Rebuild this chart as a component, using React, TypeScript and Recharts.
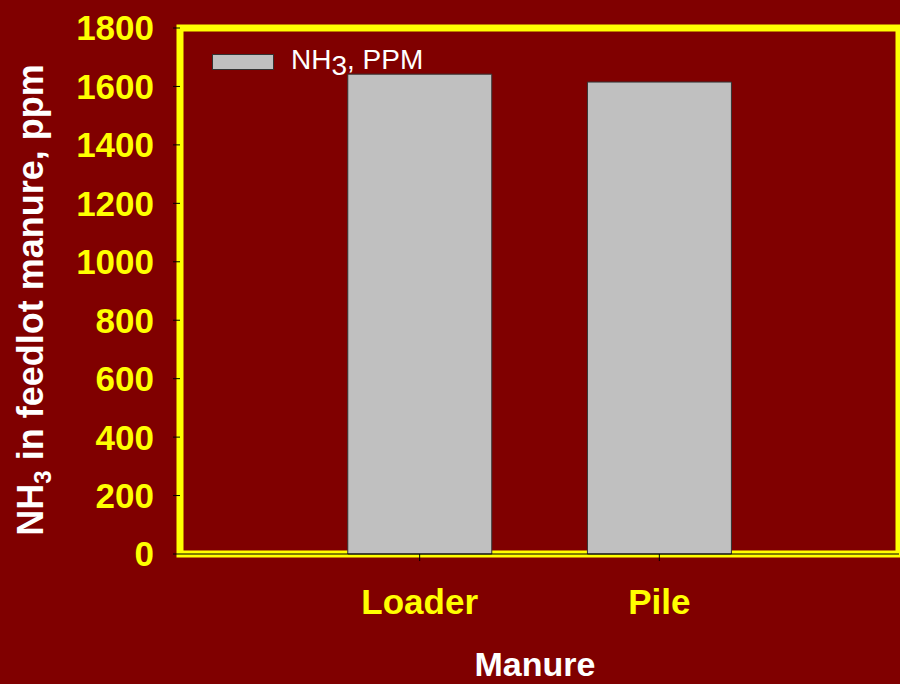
import React from 'react';
import {
  ComposedChart,
  Bar,
  XAxis,
  YAxis,
  Legend,
  Label,
  ReferenceArea,
} from 'recharts';

// Ammonia concentration measured in feedlot manure, by collection method
const categories = ['Loader', 'Pile'];
const nh3Ppm = [1642, 1615];
const yTicks = [0, 200, 400, 600, 800, 1000, 1200, 1400, 1600, 1800];
const yDomain: [number, number] = [0, 1800];

// Categories sit at slots 1..n on a numeric axis running from 0 to n + 1
const xDomain: [number, number] = [0, categories.length + 1];
const xTicks = categories.map((_, i) => i + 1);

const data = categories.map((manure, i) => ({ slot: i + 1, manure, nh3: nh3Ppm[i] }));

const FONT = '"Liberation Sans", Arial, Helvetica, sans-serif';
const BG = '#800000';
const YELLOW = '#ffff00';
const BAR_FILL = '#c0c0c0';

const LegendContent = () => (
  <div
    style={{
      position: 'relative',
      width: 240,
      height: 34,
      fontFamily: FONT,
      color: '#ffffff',
    }}
  >
    <div
      style={{
        position: 'absolute',
        left: 0,
        top: 8,
        width: 60,
        height: 14,
        background: BAR_FILL,
        border: '1px solid #333333',
      }}
    />
    <div
      style={{
        position: 'absolute',
        left: 79,
        top: 0,
        fontSize: 28,
        lineHeight: '28px',
        whiteSpace: 'nowrap',
      }}
    >
      NH<span style={{ position: 'relative', top: 6 }}>3</span>, PPM
    </div>
  </div>
);

const YTitle = () => (
  <text
    transform="translate(43, 300) rotate(-90)"
    textAnchor="middle"
    fill="#ffffff"
    fontFamily={FONT}
    fontWeight="bold"
    fontSize={36}
  >
    NH
    <tspan fontSize={24} dy={8}>
      3
    </tspan>
    <tspan dy={-8}> in feedlot manure, ppm</tspan>
  </text>
);

const XTitle = () => (
  <text
    x={535}
    y={676}
    textAnchor="middle"
    fill="#ffffff"
    fontFamily={FONT}
    fontWeight="bold"
    fontSize={34}
  >
    Manure
  </text>
);

export default function App() {
  return (
    <div
      style={{
        position: 'absolute',
        left: 0,
        top: 0,
        width: 900,
        height: 684,
        background: BG,
        overflow: 'hidden',
      }}
    >
      <ComposedChart
        width={900}
        height={684}
        data={data}
        margin={{ top: 28, right: 1, bottom: 0, left: 0 }}
        barCategoryGap="20%"
      >
        <XAxis
          dataKey="slot"
          type="number"
          domain={xDomain}
          ticks={xTicks}
          interval={0}
          tickFormatter={(v: number) => categories[v - 1] ?? ''}
          axisLine={{ stroke: '#000000', strokeWidth: 1 }}
          tickLine={{ stroke: '#000000' }}
          tickSize={7}
          tickMargin={28}
          tick={{ fill: YELLOW, fontFamily: FONT, fontWeight: 'bold', fontSize: 35 }}
          height={130}
        >
          <Label content={XTitle} />
        </XAxis>
        <YAxis
          width={180}
          domain={yDomain}
          ticks={yTicks}
          interval={0}
          axisLine={false}
          tickLine={{ stroke: '#000000' }}
          tickSize={7}
          tickMargin={19}
          tick={{ fill: YELLOW, fontFamily: FONT, fontWeight: 'bold', fontSize: 35 }}
        >
          <Label content={YTitle} />
        </YAxis>
        <Legend
          layout="horizontal"
          verticalAlign="middle"
          align="center"
          content={LegendContent}
          wrapperStyle={{ left: 212, top: 46, width: 240, height: 34 }}
        />
        <Bar
          dataKey="nh3"
          name="NH3, PPM"
          fill={BAR_FILL}
          stroke="#333333"
          strokeWidth={1}
          isAnimationActive={false}
        />
        <ReferenceArea
          x1={xDomain[0]}
          x2={xDomain[1]}
          y1={yDomain[0]}
          y2={yDomain[1]}
          fill="none"
          fillOpacity={0}
          stroke={YELLOW}
          strokeWidth={7}
          ifOverflow="visible"
        />
      </ComposedChart>
    </div>
  );
}
